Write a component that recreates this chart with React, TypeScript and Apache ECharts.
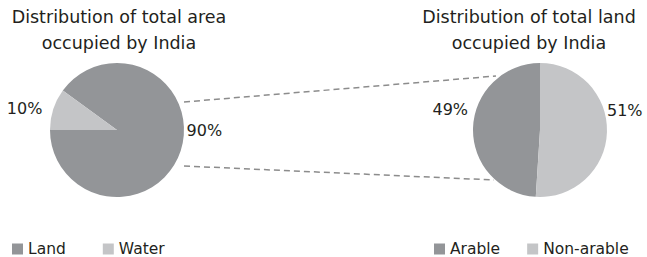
import React, { useEffect, useRef } from "react";
import * as echarts from "echarts";

const areaNames = ["Land", "Water"];
const areaValues = [90, 10];
const landNames = ["Arable", "Non-arable"];
const landValues = [49, 51];
const titles = ["Distribution of total area\noccupied by India", "Distribution of total land\noccupied by India"];

const DARK = "#939598";
const LIGHT = "#c4c5c7";
const FONT = "DejaVu Sans";

export default function App() {
  const ref = useRef<HTMLDivElement>(null);
  useEffect(() => {
    if (!ref.current) return;
    const chart = echarts.init(ref.current, null, { renderer: "svg" });
    const labelStyle = {
      show: true,
      position: "outside",
      formatter: "{c}%",
      fontFamily: FONT,
      fontSize: 16,
      color: "#231f20",
      overflow: "none",
    };
    const titleStyle = { fontFamily: FONT, fontSize: 17.5, fontWeight: "normal", color: "#231f20", lineHeight: 26 };
    const legendText = { fontFamily: FONT, fontSize: 15.5, color: "#231f20" };
    chart.setOption({
      animation: false,
      textStyle: { fontFamily: FONT },
      title: [
        { text: titles[0], left: 119, top: 4, padding: 0, textAlign: "center", textStyle: titleStyle },
        { text: titles[1], left: 529, top: 4, padding: 0, textAlign: "center", textStyle: titleStyle },
      ],
      legend: [
        {
          data: areaNames,
          left: 12,
          top: 241,
          padding: 0,
          icon: "rect",
          itemWidth: 11,
          itemHeight: 11,
          itemGap: 37,
          textStyle: legendText,
        },
        {
          data: landNames,
          left: 434,
          top: 241,
          padding: 0,
          icon: "rect",
          itemWidth: 11,
          itemHeight: 11,
          itemGap: 27,
          textStyle: legendText,
        },
      ],
      graphic: [
        {
          type: "line",
          shape: { x1: 184, y1: 102, x2: 496, y2: 76 },
          style: { stroke: "#8c8c8c", lineWidth: 1.5, lineDash: [6, 4] },
        },
        {
          type: "line",
          shape: { x1: 184, y1: 166, x2: 494, y2: 180 },
          style: { stroke: "#8c8c8c", lineWidth: 1.5, lineDash: [6, 4] },
        },
      ],
      series: [
        {
          type: "pie",
          center: [117, 130],
          radius: 67,
          startAngle: 180,
          clockwise: false,
          silent: true,
          label: labelStyle,
          labelLine: { show: false, length: 3, length2: 0 },
          labelLayout: (p: any) => (p.dataIndex === 0 ? { dy: -21, dx: -2 } : { dx: -3 }),
          data: areaNames.map((n, i) => ({
            name: n,
            value: areaValues[i],
            itemStyle: { color: i === 0 ? DARK : LIGHT },
          })),
        },
        {
          type: "pie",
          center: [540, 130],
          radius: 67,
          startAngle: 90,
          clockwise: false,
          silent: true,
          label: labelStyle,
          labelLine: { show: false, length: 3, length2: 0 },
          labelLayout: (p: any) => (p.dataIndex === 0 ? { dy: -18, dx: 3 } : { dy: -22, dx: -8 }),
          data: landNames.map((n, i) => ({
            name: n,
            value: landValues[i],
            itemStyle: { color: i === 0 ? DARK : LIGHT },
          })),
        },
      ],
    });
    return () => chart.dispose();
  }, []);
  return (
    <div
      ref={ref}
      style={{ position: "fixed", left: 0, top: 0, width: 647, height: 257, background: "#fff" }}
    />
  );
}
